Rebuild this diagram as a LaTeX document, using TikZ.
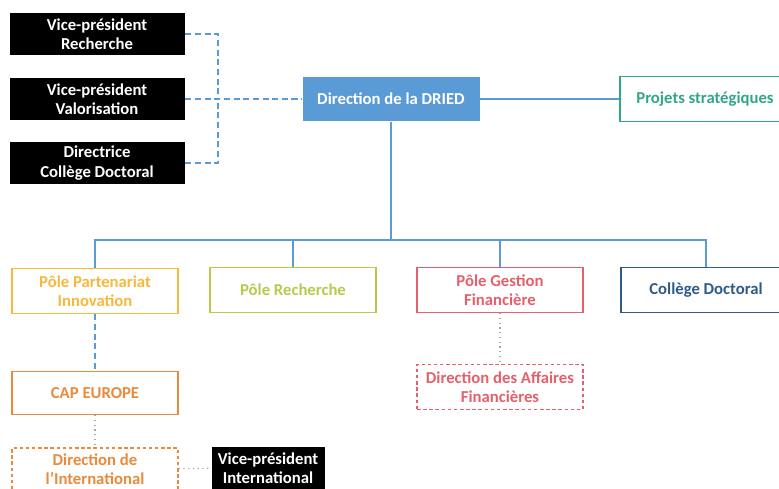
\documentclass[tikz,border=0pt]{standalone}
\usepackage{fontspec}
\setmainfont{Carlito}
\usepackage{tikz}
\definecolor{dblue}{RGB}{91,155,213}
\definecolor{dteal}{RGB}{50,166,140}
\definecolor{dgold}{RGB}{246,185,59}
\definecolor{dlime}{RGB}{180,204,74}
\definecolor{dred}{RGB}{229,96,106}
\definecolor{dnavy}{RGB}{47,91,138}
\definecolor{dorange}{RGB}{233,138,60}
\tikzset{
	box/.style={rectangle,align=center,font=\fontsize{9.5}{11}\selectfont\bfseries,line width=0.8pt,inner sep=1pt},
	blackbox/.style={box,fill=black,text=white,minimum width=175*0.02cm,minimum height=42*0.02cm},
	polebox/.style={box,draw=#1,text=#1,fill=white,minimum width=166*0.02cm,minimum height=45*0.02cm},
	subbox/.style={polebox=#1,dashed,dash pattern=on 2pt off 1.5pt},
	link/.style={draw=dblue,line width=1.2pt},
	dlink/.style={link,dash pattern=on 3.5pt off 2pt},
	olink/.style={draw=gray!70,dotted,line width=0.7pt}
}
\begin{document}
\begin{tikzpicture}[x=0.02cm,y=-0.02cm]
\useasboundingbox (0,0) rectangle (779,489);
% top left
\node[blackbox](v1) at (97,34) {Vice-président\\Recherche};
\node[blackbox](v2) at (97,99) {Vice-président\\Valorisation};
\node[blackbox](v3) at (97,163) {Directrice\\Collège Doctoral};
\node[box,fill=dblue,text=white,minimum width=177*0.02cm,minimum height=44*0.02cm](d) at (391,99) {Direction de la DRIED};
\node[polebox=dteal,minimum width=170*0.02cm](s) at (705,99) {Projets stratégiques};
% poles
\node[polebox=dgold](p1) at (95,291) {Pôle Partenariat\\Innovation};
\node[polebox=dlime](p2) at (293,290) {Pôle Recherche};
\node[polebox=dred](p3) at (500,290) {Pôle Gestion\\Financière};
\node[polebox=dnavy,minimum width=170*0.02cm](p4) at (706,290) {Collège Doctoral};
% below
\node[polebox=dorange,minimum height=43*0.02cm](p11) at (95,393) {CAP EUROPE};
\node[subbox=dorange,minimum height=42*0.02cm,font=\fontsize{9.5}{10.5}\selectfont\bfseries](p12) at (95,469) {Direction de\\l’International};
\node[blackbox,minimum width=113*0.02cm](v4) at (268,468) {Vice-président\\International};
\node[subbox=dred](p31) at (500,387) {Direction des Affaires\\Financières};

\coordinate(b) at (218,99);
\coordinate(t) at (391,240);

%dashed links to the direction
\draw[dlink] (v1.east) -| (b);
\draw[dlink] (v3.east) -| (b);
\draw[dlink] (v2) -- (d);
\draw[link] (d) -- (s);

%tree of poles
\draw[link] (d) -- (t);
\foreach \x in {p1,p2,p3,p4}{
	\draw[link] (t) -| (\x);
}
\draw[dlink] (p1) -- (p11);
\draw[olink] (p11) -- (p12);
\draw[olink] (p12) -- (v4);
\draw[olink] (p3) -- (p31);
\end{tikzpicture}
\end{document}
